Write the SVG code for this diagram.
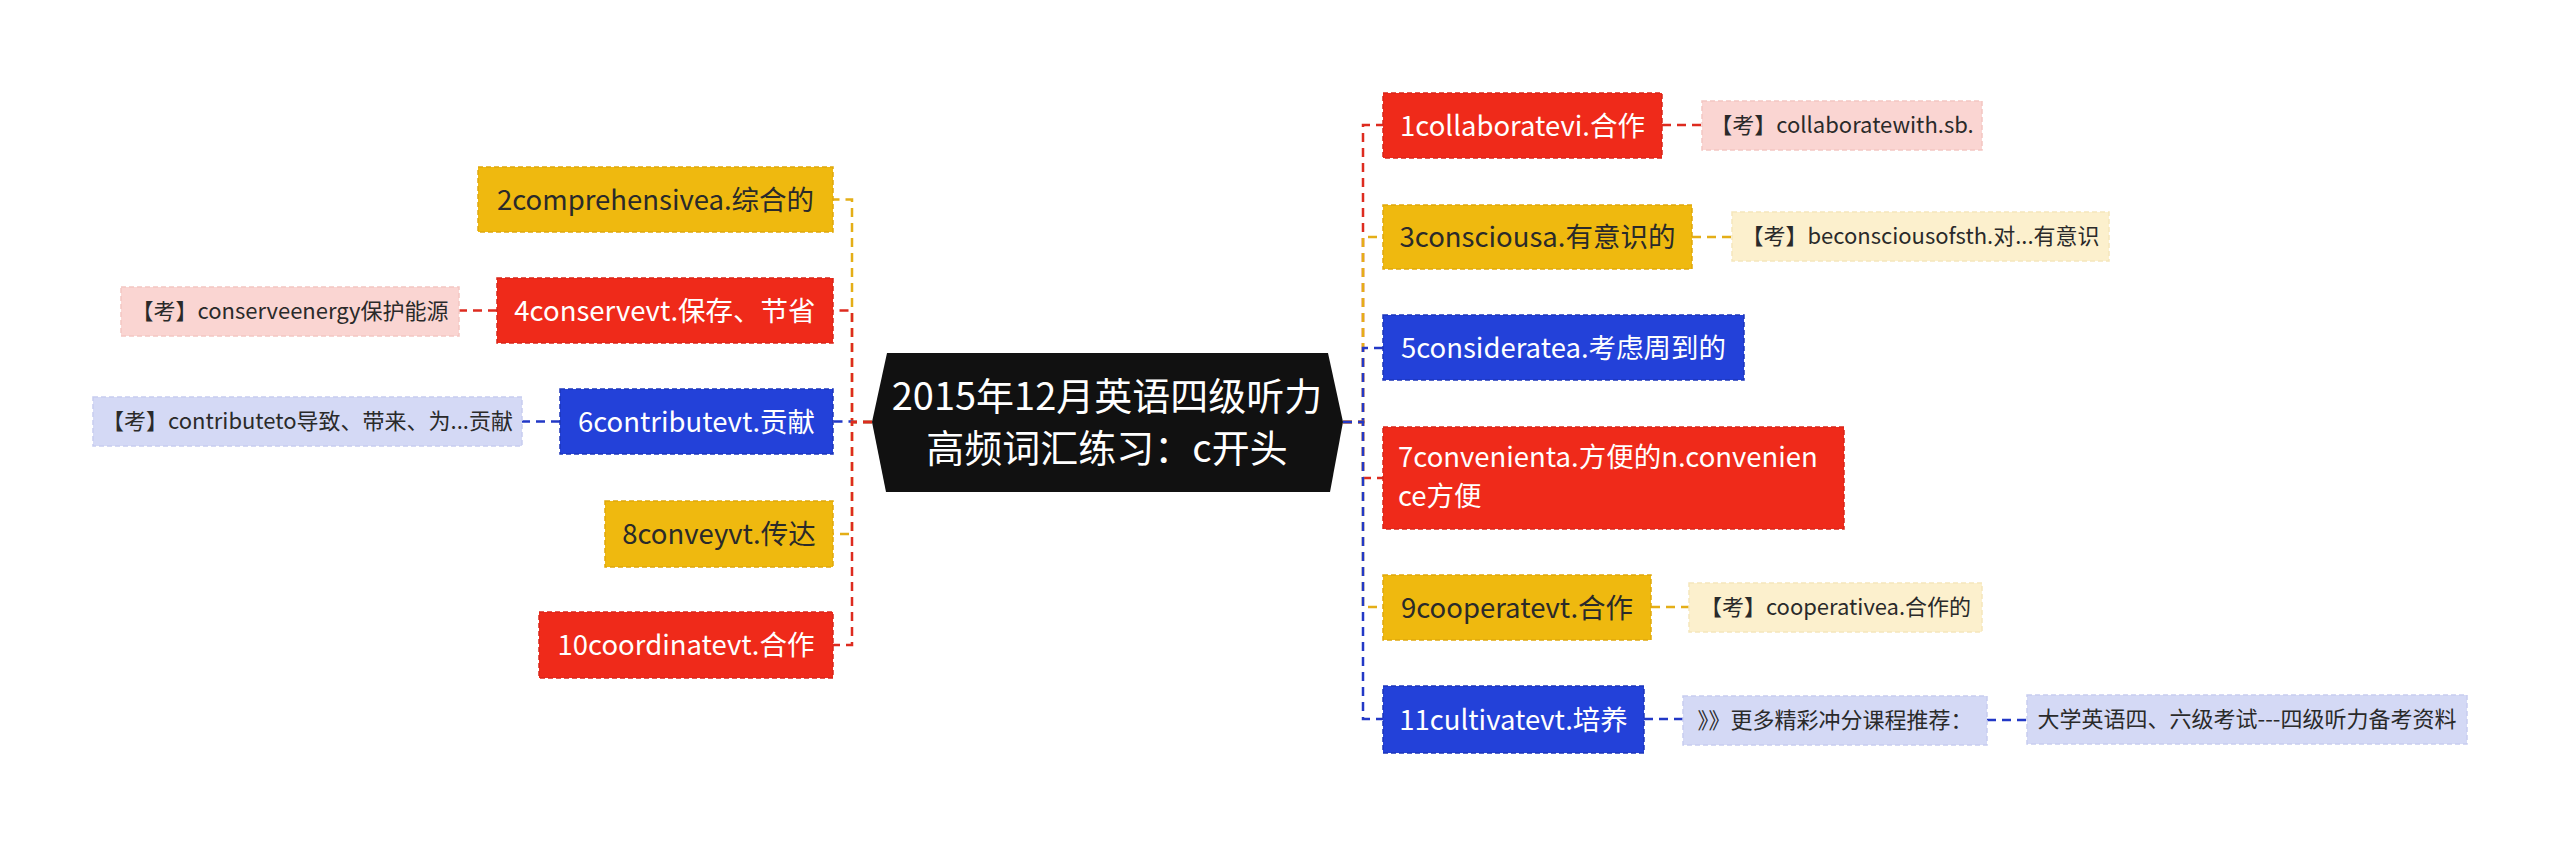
<svg xmlns="http://www.w3.org/2000/svg" width="2560" height="845" viewBox="0 0 2560 845">
<style>
text{font-family:"Noto Sans CJK SC","Microsoft YaHei",sans-serif;}
.c{fill:none;stroke-width:2.5;stroke-dasharray:9 6;}
.cr{stroke:#DD2B1F;} .cy{stroke:#E4AE17;} .cb{stroke:#2238C6;}
.nr{fill:#EF2A1A;stroke:#D9261A;stroke-width:1.5;stroke-dasharray:5 3;}
.ny{fill:#EFB90F;stroke:#E0A80C;stroke-width:1.5;stroke-dasharray:5 3;}
.nb{fill:#2341D9;stroke:#1D36BA;stroke-width:1.5;stroke-dasharray:5 3;}
.pr{fill:#FAD5D2;stroke:#F4C6C2;stroke-width:1.5;stroke-dasharray:5 3;}
.py{fill:#FCF0CD;stroke:#F5E6BC;stroke-width:1.5;stroke-dasharray:5 3;}
.pb{fill:#D4D9F5;stroke:#C7CDF0;stroke-width:1.5;stroke-dasharray:5 3;}
.tw{fill:#FFFFFF;font-size:27.5px;}
.td{fill:#2A2A2A;font-size:27.5px;}
.tn{fill:#2A2A2A;font-size:22px;}
.m{text-anchor:middle;}
</style>
<rect width="2560" height="845" fill="#FFFFFF"/>
<g id="connectors">
<path class="c cy" d="M872,422 H852 V199.5 H833"/>
<path class="c cr" d="M872,422 H852 V310.5 H833"/>
<path class="c cb" d="M872,422 H852 V421.5 H833"/>
<path class="c cy" d="M872,422 H852 V534 H833"/>
<path class="c cr" d="M872,422 H852 V645 H833"/>
<path class="c cr" d="M1343,422 H1363 V125 H1383"/>
<path class="c cy" d="M1343,422 H1363 V237 H1383"/>
<path class="c cb" d="M1343,422 H1363 V348 H1383"/>
<path class="c cr" d="M1343,422 H1363 V478 H1383"/>
<path class="c cy" d="M1343,422 H1363 V607 H1383"/>
<path class="c cb" d="M1343,422 H1363 V719 H1383"/>
<path class="c cr" d="M497,310.5 H459"/>
<path class="c cb" d="M560,421.5 H522"/>
<path class="c cr" d="M1662,125 H1702"/>
<path class="c cy" d="M1692,237 H1732"/>
<path class="c cy" d="M1651,607 H1689"/>
<path class="c cb" d="M1644,719 H1683"/>
<path class="c cb" d="M1987,720 H2027"/>
</g>
<g id="center">
<polygon points="872,422 887,353 1328,353 1343,422 1330,492 886,492" fill="#111111"/>
<text class="m" x="1107" y="410" fill="#FFFFFF" font-size="38">2015年12月英语四级听力</text>
<text class="m" x="1107" y="462" fill="#FFFFFF" font-size="38">高频词汇练习：c开头</text>
</g>
<g id="n2">
<rect class="ny" x="478" y="167" width="355" height="65"/>
<text class="td m" x="655.5" y="209.5">2comprehensivea.综合的</text>
</g>
<g id="n4">
<rect class="nr" x="497" y="278" width="336" height="65"/>
<text class="tw m" x="665" y="320.5">4conservevt.保存、节省</text>
</g>
<g id="n4note">
<rect class="pr" x="121" y="287" width="338" height="49"/>
<text class="tn m" x="290" y="318.5">【考】conserveenergy保护能源</text>
</g>
<g id="n6">
<rect class="nb" x="560" y="389" width="273" height="65"/>
<text class="tw m" x="696.5" y="431.5">6contributevt.贡献</text>
</g>
<g id="n6note">
<rect class="pb" x="93" y="397" width="429" height="49"/>
<text class="tn m" x="307.5" y="428.5">【考】contributeto导致、带来、为...贡献</text>
</g>
<g id="n8">
<rect class="ny" x="605" y="501" width="228" height="66"/>
<text class="td m" x="719" y="543.5">8conveyvt.传达</text>
</g>
<g id="n10">
<rect class="nr" x="539" y="612" width="294" height="66"/>
<text class="tw m" x="686" y="654.5">10coordinatevt.合作</text>
</g>
<g id="n1">
<rect class="nr" x="1383" y="93" width="279" height="65"/>
<text class="tw m" x="1522.5" y="135.5">1collaboratevi.合作</text>
</g>
<g id="n1note">
<rect class="pr" x="1702" y="101" width="280" height="49"/>
<text class="tn m" x="1842" y="132.5">【考】collaboratewith.sb.</text>
</g>
<g id="n3">
<rect class="ny" x="1383" y="205" width="309" height="64"/>
<text class="td m" x="1537.5" y="246.5">3consciousa.有意识的</text>
</g>
<g id="n3note">
<rect class="py" x="1732" y="212" width="377" height="49"/>
<text class="tn m" x="1920.5" y="243.5">【考】beconsciousofsth.对...有意识</text>
</g>
<g id="n5">
<rect class="nb" x="1383" y="315" width="361" height="65"/>
<text class="tw m" x="1563.5" y="357.5">5consideratea.考虑周到的</text>
</g>
<g id="n7">
<rect class="nr" x="1383" y="427" width="461" height="102"/>
<text class="tw" x="1398" y="467">7convenienta.方便的n.convenien</text>
<text class="tw" x="1398" y="506">ce方便</text>
</g>
<g id="n9">
<rect class="ny" x="1383" y="575" width="268" height="65"/>
<text class="td m" x="1517" y="617.5">9cooperatevt.合作</text>
</g>
<g id="n9note">
<rect class="py" x="1689" y="583" width="293" height="49"/>
<text class="tn m" x="1835.5" y="614.5">【考】cooperativea.合作的</text>
</g>
<g id="n11">
<rect class="nb" x="1383" y="686" width="261" height="67"/>
<text class="tw m" x="1513.5" y="729.5">11cultivatevt.培养</text>
</g>
<g id="n11note">
<rect class="pb" x="1683" y="696" width="304" height="49"/>
<text class="tn m" x="1835" y="727.5">》》更多精彩冲分课程推荐：</text>
</g>
<g id="n11note2">
<rect class="pb" x="2027" y="695" width="440" height="49"/>
<text class="tn m" x="2247" y="726.5">大学英语四、六级考试---四级听力备考资料</text>
</g>
</svg>
